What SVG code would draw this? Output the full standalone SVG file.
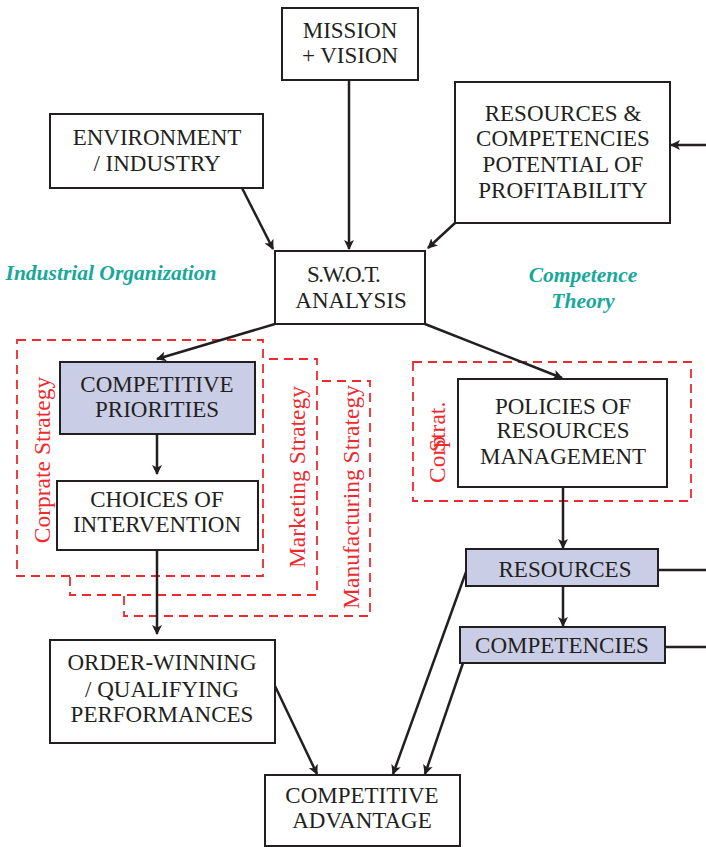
<svg xmlns="http://www.w3.org/2000/svg" width="706" height="847" viewBox="0 0 706 847">
<defs>
<marker id="ah" markerWidth="10" markerHeight="10" refX="9" refY="5" orient="auto" markerUnits="userSpaceOnUse" viewBox="0 0 10 10">
<path d="M0,0 L10,5 L0,10 L2.5,5 Z" fill="#231f20"/>
</marker>
<style>
.box{fill:#fff;stroke:#231f20;stroke-width:2}
.fill{fill:#c9cde6;stroke:#231f20;stroke-width:2}
.t{font-family:'Liberation Serif','Times New Roman','DejaVu Serif',serif;font-size:23px;fill:#231f20;text-anchor:middle}
.c{stroke:#231f20;stroke-width:2.5;fill:none}
.d{stroke:#ee2a2e;stroke-width:1.8;fill:none;stroke-dasharray:9,6}
.r{font-family:'Liberation Serif','Times New Roman','DejaVu Serif',serif;font-size:23.5px;fill:#ee2a2e;text-anchor:middle}
.g{font-family:'Liberation Serif','Times New Roman','DejaVu Serif',serif;font-size:21.5px;font-style:italic;font-weight:bold;fill:#17a89a;text-anchor:middle}
</style>
</defs>
<rect width="706" height="847" fill="#fff"/>

<g id="strategy-frames">
<path class="d" d="M124,596 V616 H370 V381 H317"/>
<path class="d" d="M70,577 V595 H317 V359 H263"/>
<rect class="d" x="17" y="340" width="246" height="236" fill="#fff"/>
<rect class="d" x="413" y="362" width="278" height="139"/>
<text class="r" transform="translate(50,460) rotate(-90)">Corprate Strategy</text>
<text class="r" transform="translate(305,477) rotate(-90)">Marketing Strategy</text>
<text class="r" transform="translate(359,497) rotate(-90)">Manufacturing Strategy</text>
<text class="r" transform="translate(445,483) rotate(-90)" style="text-anchor:start">Corp</text>
<text class="r" transform="translate(445,452) rotate(-90)" style="text-anchor:start">Strat.</text>
</g>

<g id="labels">
<text class="g" x="111" y="280">Industrial Organization</text>
<text class="g" x="583" y="282">Competence</text>
<text class="g" x="583" y="308">Theory</text>
</g>

<g id="connectors">
<line class="c" x1="349" y1="80" x2="349" y2="249" marker-end="url(#ah)"/>
<line class="c" x1="242" y1="188" x2="273" y2="249" marker-end="url(#ah)"/>
<line class="c" x1="455" y1="223" x2="428" y2="248" marker-end="url(#ah)"/>
<line class="c" x1="706" y1="145" x2="671" y2="145" marker-end="url(#ah)"/>
<line class="c" x1="275" y1="324" x2="157" y2="359" marker-end="url(#ah)"/>
<line class="c" x1="425" y1="324" x2="562" y2="378" marker-end="url(#ah)"/>
<line class="c" x1="157" y1="434" x2="157" y2="474" marker-end="url(#ah)"/>
<line class="c" x1="157" y1="550" x2="157" y2="634" marker-end="url(#ah)"/>
<line class="c" x1="563" y1="487" x2="563" y2="548" marker-end="url(#ah)"/>
<line class="c" x1="563" y1="586" x2="563" y2="626" marker-end="url(#ah)"/>
<line class="c" x1="658" y1="570" x2="706" y2="570"/>
<line class="c" x1="665" y1="647" x2="706" y2="647"/>
<line class="c" x1="275" y1="686" x2="317" y2="774" marker-end="url(#ah)"/>
<line class="c" x1="466" y1="572" x2="393" y2="774" marker-end="url(#ah)"/>
<line class="c" x1="463" y1="663" x2="425" y2="774" marker-end="url(#ah)"/>
</g>

<g id="mission">
<rect class="box" x="282" y="8" width="136" height="72"/>
<text class="t" x="350" y="38">MISSION</text>
<text class="t" x="350" y="63">+ VISION</text>
</g>
<g id="environment">
<rect class="box" x="50" y="114" width="213" height="74"/>
<text class="t" x="157" y="145">ENVIRONMENT</text>
<text class="t" x="157" y="171">/ INDUSTRY</text>
</g>
<g id="resources-competencies">
<rect class="box" x="455" y="82" width="215" height="141"/>
<text class="t" x="563" y="121">RESOURCES &amp;</text>
<text class="t" x="563" y="146">COMPETENCIES</text>
<text class="t" x="563" y="172">POTENTIAL OF</text>
<text class="t" x="563" y="198">PROFITABILITY</text>
</g>
<g id="swot">
<rect class="box" x="275" y="251" width="150" height="73"/>
<text class="t" x="307" y="282" style="text-anchor:start;letter-spacing:-1.5px">S.W.O.T.</text>
<text class="t" x="351" y="308">ANALYSIS</text>
</g>
<g id="competitive-priorities">
<rect class="fill" x="60" y="362" width="195" height="72"/>
<text class="t" x="157" y="392">COMPETITIVE</text>
<text class="t" x="157" y="417">PRIORITIES</text>
</g>
<g id="choices">
<rect class="box" x="57" y="481" width="201" height="69"/>
<text class="t" x="157" y="507">CHOICES OF</text>
<text class="t" x="157" y="532">INTERVENTION</text>
</g>
<g id="order-winning">
<rect class="box" x="50" y="640" width="225" height="103"/>
<text class="t" x="162" y="670">ORDER-WINNING</text>
<text class="t" x="162" y="697">/ QUALIFYING</text>
<text class="t" x="162" y="722">PERFORMANCES</text>
</g>
<g id="policies">
<rect class="box" x="458" y="379" width="209" height="108"/>
<text class="t" x="563" y="414">POLICIES OF</text>
<text class="t" x="563" y="438">RESOURCES</text>
<text class="t" x="563" y="464">MANAGEMENT</text>
</g>
<g id="resources">
<rect class="fill" x="466" y="549" width="192" height="37"/>
<text class="t" x="565" y="577">RESOURCES</text>
</g>
<g id="competencies">
<rect class="fill" x="460" y="627" width="205" height="36"/>
<text class="t" x="562" y="653">COMPETENCIES</text>
</g>
<g id="competitive-advantage">
<rect class="box" x="265" y="775" width="195" height="71"/>
<text class="t" x="362" y="803">COMPETITIVE</text>
<text class="t" x="362" y="828">ADVANTAGE</text>
</g>
</svg>
